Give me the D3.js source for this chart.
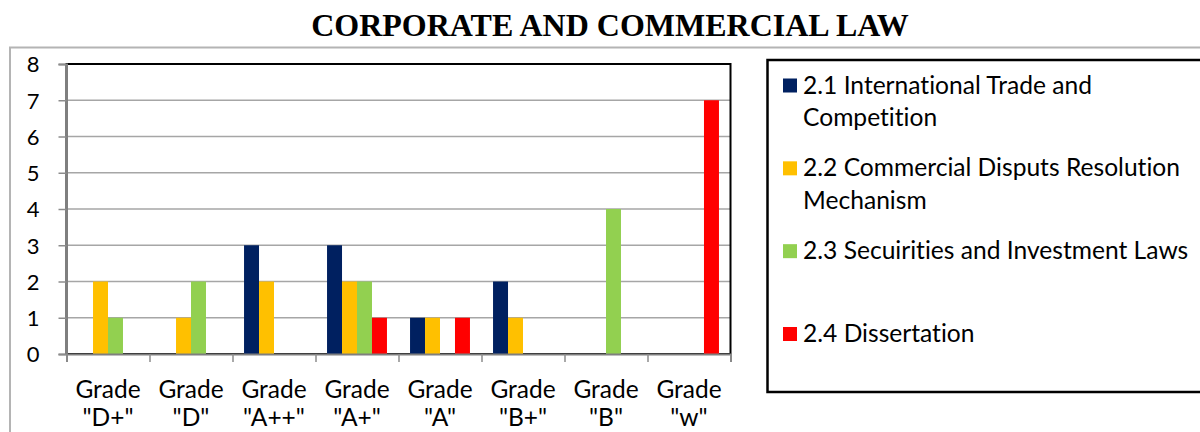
<!DOCTYPE html>
<html>
<head>
<meta charset="utf-8">
<script src="https://cdn.jsdelivr.net/npm/d3@7"></script>
<style>
  body { margin: 0; background: #fff; }
  svg { display: block; }
  .label { font-family: Lato, "Noto Sans", sans-serif; fill: #000; font-variant-ligatures: none; }
</style>
</head>
<body>
<div id="chart"></div>
<script>
// grades along the x axis
var grades = ['"D+"', '"D"', '"A++"', '"A+"', '"A"', '"B+"', '"B"', '"w"'];

// series names, split in lines as in the legend
var seriesNames = [
  ["2.1 International Trade and", "Competition"],
  ["2.2 Commercial Disputs Resolution", "Mechanism"],
  ["2.3 Secuirities and Investment Laws"],
  ["2.4 Dissertation"]
];

// values per series, one per grade
var intlTrade    = [0, 0, 3, 3, 1, 2, 0, 0];
var disputes     = [2, 1, 2, 2, 1, 1, 0, 0];
var securities   = [1, 2, 0, 2, 0, 0, 4, 0];
var dissertation = [0, 0, 0, 1, 1, 0, 0, 7];

var seriesValues = [intlTrade, disputes, securities, dissertation];
var colors = ["#002060", "#FFC000", "#92D050", "#FF0000"];

var yTicks = [0, 1, 2, 3, 4, 5, 6, 7, 8];

function drawChart() {
  var width = 1200, height = 432;

  var svg = d3.select("#chart").append("svg")
    .attr("width", width)
    .attr("height", height);

  // title
  svg.append("text")
    .attr("x", 610)
    .attr("y", 36)
    .attr("text-anchor", "middle")
    .style("font-family", "'Liberation Serif', 'Times New Roman', serif")
    .style("font-weight", "bold")
    .style("font-size", "32px")
    .text("CORPORATE AND COMMERCIAL LAW");

  // outer chart frame (runs off the page right and bottom)
  svg.append("rect")
    .attr("x", 10)
    .attr("y", 47.5)
    .attr("width", 1250)
    .attr("height", 450)
    .attr("fill", "none")
    .attr("stroke", "#b4b4b4")
    .attr("stroke-width", 2);

  // plot area
  var plotLeft = 66.5, plotRight = 730.5, plotTop = 64, plotBottom = 354;

  var x0 = d3.scaleBand()
    .domain(grades)
    .range([plotLeft, plotRight])
    .padding(0);

  var x1 = d3.scaleBand()
    .domain(d3.range(seriesValues.length))
    .range([0, x0.bandwidth()])
    .paddingInner(0)
    .paddingOuter(0.77);

  var y = d3.scaleLinear()
    .domain([0, 8])
    .range([plotBottom, plotTop]);

  var xIndex = d3.scaleLinear()
    .domain([0, grades.length])
    .range([plotLeft, plotRight]);

  // gridlines
  svg.append("g")
    .selectAll("line")
    .data(yTicks.slice(1, -1))
    .enter().append("line")
    .attr("x1", plotLeft)
    .attr("x2", plotRight)
    .attr("y1", function(d) { return y(d); })
    .attr("y2", function(d) { return y(d); })
    .attr("stroke", "#a6a6a6")
    .attr("stroke-width", 1.5);

  // plot frame
  svg.append("rect")
    .attr("x", plotLeft)
    .attr("y", plotTop)
    .attr("width", plotRight - plotLeft)
    .attr("height", plotBottom - plotTop)
    .attr("fill", "none")
    .attr("stroke", "#000")
    .attr("stroke-width", 2);

  // bars
  var groups = svg.append("g")
    .selectAll("g")
    .data(grades)
    .enter().append("g")
    .attr("transform", function(d) { return "translate(" + x0(d) + ",0)"; });

  groups.selectAll("rect")
    .data(function(d, gi) {
      return seriesValues.map(function(vals, si) { return { s: si, v: vals[gi] }; });
    })
    .enter().append("rect")
    .attr("x", function(d) { return x1(d.s); })
    .attr("width", x1.bandwidth())
    .attr("y", function(d) { return y(d.v); })
    .attr("height", function(d) { return y(0) - y(d.v); })
    .attr("fill", function(d) { return colors[d.s]; });

  // y axis
  var yAxis = svg.append("g")
    .attr("transform", "translate(" + plotLeft + ",0)")
    .call(d3.axisLeft(y).tickValues(yTicks).tickSize(8).tickPadding(19).tickFormat(d3.format("d")));

  yAxis.select(".domain").attr("stroke", "#7f7f7f").attr("stroke-width", 2);
  yAxis.selectAll(".tick line").attr("stroke", "#8c8c8c").attr("stroke-width", 1.5);
  yAxis.selectAll(".tick text")
    .attr("class", "label")
    .attr("dy", "0.36em")
    .style("font-size", "22px");

  // x axis ticks at the category boundaries
  var xAxis = svg.append("g")
    .attr("transform", "translate(0," + plotBottom + ")")
    .call(d3.axisBottom(xIndex).tickValues(d3.range(grades.length + 1)).tickSize(8).tickFormat(""));

  xAxis.select(".domain").attr("stroke", "#7f7f7f").attr("stroke-width", 2);
  xAxis.selectAll(".tick line").attr("stroke", "#8c8c8c").attr("stroke-width", 1.5);

  // category labels
  var xLabels = svg.append("g")
    .selectAll("text")
    .data(grades)
    .enter().append("text")
    .attr("class", "label")
    .attr("text-anchor", "middle")
    .style("font-size", "24.5px")
    .attr("transform", function(d) { return "translate(" + (x0(d) + x0.bandwidth() / 2) + ",0)"; });

  xLabels.append("tspan").attr("x", 0).attr("y", 398).text("Grade");
  xLabels.append("tspan").attr("x", 0).attr("y", 426).text(function(d) { return d; });

  // legend box
  svg.append("rect")
    .attr("x", 767.5)
    .attr("y", 60)
    .attr("width", 500)
    .attr("height", 332)
    .attr("fill", "#fff")
    .attr("stroke", "#000")
    .attr("stroke-width", 2.5);

  var legendY = d3.scalePoint()
    .domain(d3.range(seriesNames.length))
    .range([85.5, 334]);

  var legend = svg.append("g")
    .selectAll("g")
    .data(seriesNames)
    .enter().append("g")
    .attr("transform", function(d, i) { return "translate(783," + legendY(i) + ")"; });

  legend.append("rect")
    .attr("x", 0)
    .attr("y", -7)
    .attr("width", 14)
    .attr("height", 14)
    .attr("fill", function(d, i) { return colors[i]; });

  legend.append("text")
    .attr("class", "label")
    .style("font-size", "24.6px")
    .selectAll("tspan")
    .data(function(d) { return d; })
    .enter().append("tspan")
    .attr("x", 20)
    .attr("y", function(d, i) { return 8 + i * 32.5; })
    .text(function(d) { return d; });
}

drawChart();
</script>
</body>
</html>
